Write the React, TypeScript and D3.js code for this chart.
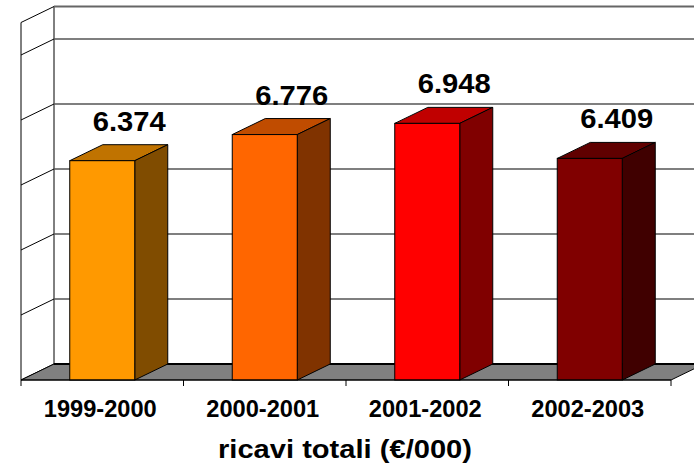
import { useEffect, useRef } from "react";
import * as d3 from "d3";

const categories = ["1999-2000", "2000-2001", "2001-2002", "2002-2003"];
const values = [6.374, 6.776, 6.948, 6.409];
const valueLabels = ["6.374", "6.776", "6.948", "6.409"];
const gridTicks = [3, 4, 5, 6, 7, 8];
const frontColors = ["#ff9900", "#ff6600", "#ff0000", "#800000"];
const topColors = ["#c07300", "#c04c00", "#c00000", "#600000"];
const sideColors = ["#804c00", "#803300", "#800000", "#400000"];
const axisTitle = "ricavi totali (€/000)";

const W = 694;
const H = 468;

export default function App() {
  const svgRef = useRef<SVGSVGElement>(null);

  useEffect(() => {
    const svg = d3.select(svgRef.current);
    svg.selectAll("*").remove();

    const font = "'Liberation Sans', Arial, sans-serif";
    const left = 21;
    const right = 671;
    const floorY = 380;
    const dx = 33; // depth offset
    const dy = 16;

    const x = d3
      .scaleBand<string>()
      .domain(categories)
      .range([left, right])
      .paddingInner(0.6)
      .paddingOuter(0.3);

    // front plane scale
    const y = d3.scaleLinear().domain([3, 8.5]).range([floorY, floorY - 357.5]);
    const yMin = y.domain()[0];
    const yMax = y.domain()[1];

    const pts = (p: [number, number][]) => p.map((d) => d.join(",")).join(" ");

    // side wall (left)
    svg
      .append("polygon")
      .attr("points", pts([
        [left, y(yMax)],
        [left + dx, y(yMax) - dy],
        [left + dx, y(yMin) - dy],
        [left, y(yMin)],
      ]))
      .attr("fill", "#fff")
      .attr("stroke", "#000")
      .attr("stroke-width", 1);

    // back wall gridlines
    svg
      .append("g")
      .selectAll("line")
      .data(gridTicks.slice(1))
      .join("line")
      .attr("x1", left + dx)
      .attr("x2", W + 20)
      .attr("y1", (d) => y(d) - dy)
      .attr("y2", (d) => y(d) - dy)
      .attr("stroke", "#555")
      .attr("stroke-width", 1.5);

    // wall top edge
    svg
      .append("line")
      .attr("x1", left + dx)
      .attr("x2", W + 20)
      .attr("y1", y(yMax) - dy)
      .attr("y2", y(yMax) - dy)
      .attr("stroke", "#666")
      .attr("stroke-width", 2);

    // side wall gridlines
    svg
      .append("g")
      .selectAll("line")
      .data(gridTicks.slice(1))
      .join("line")
      .attr("x1", left)
      .attr("x2", left + dx)
      .attr("y1", (d) => y(d))
      .attr("y2", (d) => y(d) - dy)
      .attr("stroke", "#000")
      .attr("stroke-width", 1);

    // floor
    svg
      .append("polygon")
      .attr("points", pts([
        [left, floorY],
        [left + dx, floorY - dy],
        [right + dx, floorY - dy],
        [right, floorY],
      ]))
      .attr("fill", "#808080")
      .attr("stroke", "#000")
      .attr("stroke-width", 1);

    svg
      .append("line")
      .attr("x1", left + dx)
      .attr("x2", right + dx)
      .attr("y1", floorY - dy)
      .attr("y2", floorY - dy)
      .attr("stroke", "#000")
      .attr("stroke-width", 2);

    // bars
    const bw = x.bandwidth();
    const bars = svg
      .append("g")
      .selectAll("g")
      .data(categories.map((c, i) => ({ c, v: values[i], i })))
      .join("g");

    bars
      .append("polygon")
      .attr("points", (d) => {
        const x0 = x(d.c)!;
        return pts([
          [x0, y(d.v)],
          [x0 + dx, y(d.v) - dy],
          [x0 + bw + dx, y(d.v) - dy],
          [x0 + bw, y(d.v)],
        ]);
      })
      .attr("fill", (d) => topColors[d.i])
      .attr("stroke", "#000")
      .attr("stroke-width", 1)
      .attr("stroke-linejoin", "round");

    bars
      .append("polygon")
      .attr("points", (d) => {
        const x1 = x(d.c)! + bw;
        return pts([
          [x1, y(d.v)],
          [x1 + dx, y(d.v) - dy],
          [x1 + dx, floorY - dy],
          [x1, floorY],
        ]);
      })
      .attr("fill", (d) => sideColors[d.i])
      .attr("stroke", "#000")
      .attr("stroke-width", 1)
      .attr("stroke-linejoin", "round");

    bars
      .append("rect")
      .attr("x", (d) => x(d.c)!)
      .attr("y", (d) => y(d.v))
      .attr("width", bw)
      .attr("height", (d) => floorY - y(d.v))
      .attr("fill", (d) => frontColors[d.i])
      .attr("stroke", "#000")
      .attr("stroke-width", 1);

    // value labels
    bars
      .append("text")
      .attr("x", (d) => x(d.c)! + bw / 2 + 27)
      .attr("y", (d) => y(d.v) - dy - 14)
      .attr("text-anchor", "middle")
      .attr("font-family", font)
      .attr("font-weight", "bold")
      .attr("font-size", 28)
      .attr("textLength", 73)
      .attr("lengthAdjust", "spacingAndGlyphs")
      .attr("fill", "#000")
      .text((d) => valueLabels[d.i]);

    // category axis
    const step = x.step();
    const axis = svg.append("g");
    axis
      .append("line")
      .attr("x1", left)
      .attr("x2", right)
      .attr("y1", floorY)
      .attr("y2", floorY)
      .attr("stroke", "#000")
      .attr("stroke-width", 1);
    axis
      .selectAll("line.tick")
      .data(d3.range(categories.length + 1))
      .join("line")
      .attr("class", "tick")
      .attr("x1", (i) => left + i * step)
      .attr("x2", (i) => left + i * step)
      .attr("y1", floorY)
      .attr("y2", floorY + 6)
      .attr("stroke", "#000")
      .attr("stroke-width", 1);
    axis
      .selectAll("text")
      .data(categories)
      .join("text")
      .attr("x", (d) => x(d)! + bw / 2 - 2)
      .attr("y", 416.5)
      .attr("text-anchor", "middle")
      .attr("font-family", font)
      .attr("font-weight", "bold")
      .attr("font-size", 23.5)
      .attr("textLength", 113)
      .attr("lengthAdjust", "spacingAndGlyphs")
      .attr("fill", "#000")
      .text((d) => d);

    svg
      .append("text")
      .attr("x", 345)
      .attr("y", 458)
      .attr("text-anchor", "middle")
      .attr("font-family", font)
      .attr("font-weight", "bold")
      .attr("font-size", 26)
      .attr("textLength", 254)
      .attr("lengthAdjust", "spacingAndGlyphs")
      .attr("fill", "#000")
      .text(axisTitle);
  }, []);

  return (
    <svg
      ref={svgRef}
      width={W}
      height={H}
      style={{ position: "absolute", left: 0, top: 0, background: "#fff" }}
    />
  );
}
